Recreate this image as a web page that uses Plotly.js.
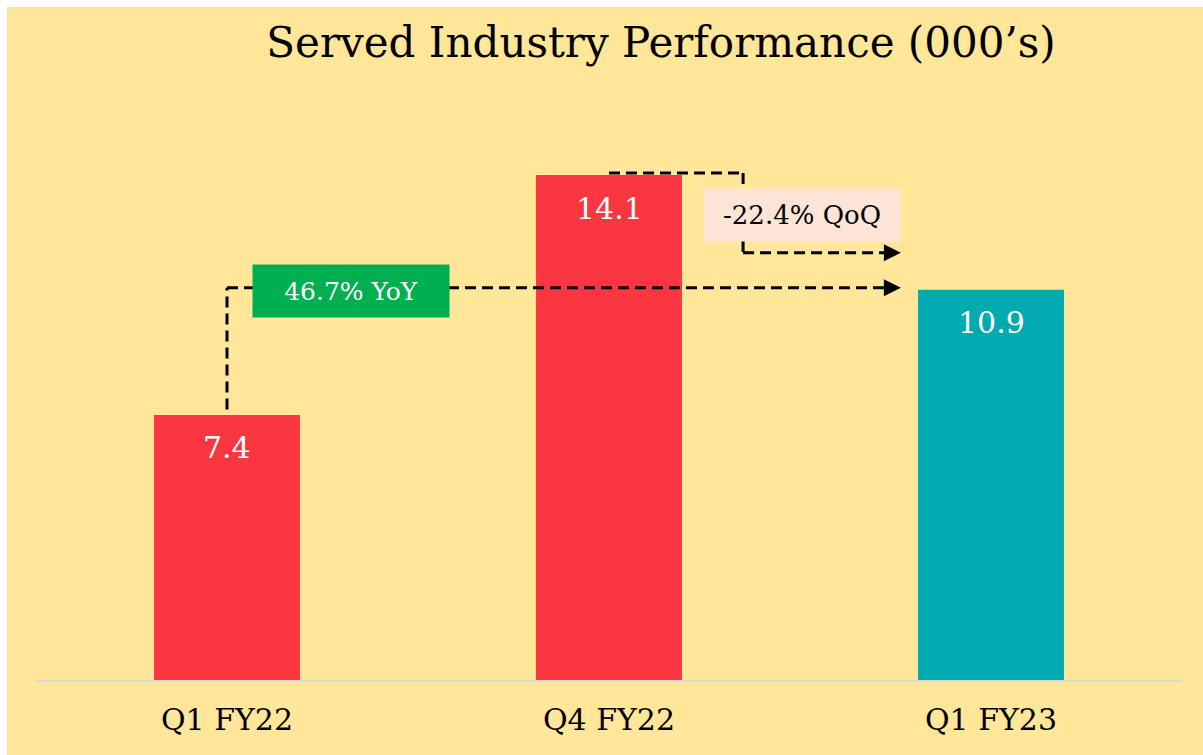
<!DOCTYPE html>
<html>
<head>
<meta charset="utf-8">
<script src="https://cdn.plot.ly/plotly-3.0.1.min.js"></script>
<style>
html, body { margin: 0; padding: 0; background: #ffffff; }
#chart { position: absolute; left: 7px; top: 7px; width: 1196px; height: 748px; }
</style>
</head>
<body>
<div id="chart"></div>
<script>
// ---- data ----
const categories = ["Q1 FY22", "Q4 FY22", "Q1 FY23"];
const values = [7.4, 14.1, 10.9];
const valueLabels = ["7.4", "14.1", "10.9"];
const barColors = ["#FA3640", "#FA3640", "#00AAAE"];
const yoyText = "46.7% YoY";
const qoqText = "-22.4% QoQ";
const titleText = "Served Industry Performance (000’s)";

// ---- style constants ----
const FONT = "DejaVu Serif, Liberation Serif, serif";
const BG = "#FFE699";
const dashStyle = { color: "#000000", width: 3, dash: "11px,6px" };
const arrowTipX = 1.764;             // category-index position of arrow tips
const yoyLevel = values[2] + 0.05;   // YoY arrow runs at the Q1 FY23 level
const qoqLevel = values[2] + 1.03;   // QoQ arrow level
const qoqTurnX = 1.351;

const trace = {
  type: "bar",
  x: categories,
  y: values,
  width: 0.382,
  marker: { color: barColors },
  hoverinfo: "skip",
  showlegend: false
};

function seg(x0, y0, x1, y1) {
  return { type: "line", xref: "x", yref: "y", x0: x0, y0: y0, x1: x1, y1: y1,
           line: dashStyle, layer: "above" };
}
function arrowHead(x, y) {
  return { type: "path", xref: "x", yref: "y", xsizemode: "pixel", ysizemode: "pixel",
           xanchor: x, yanchor: y, path: "M -17 -8.5 L 0 0 L -17 8.5 Z",
           fillcolor: "#000000", line: { width: 0 }, layer: "above" };
}

const shapes = [
  // YoY connector
  seg(0, values[0] + 0.15, 0, yoyLevel),
  seg(0, yoyLevel, arrowTipX - 0.02, yoyLevel),
  arrowHead(arrowTipX, yoyLevel),
  // QoQ connector
  seg(1, values[1] + 0.06, qoqTurnX, values[1] + 0.06),
  seg(qoqTurnX, values[1] + 0.06, qoqTurnX, qoqLevel),
  seg(qoqTurnX, qoqLevel, arrowTipX - 0.02, qoqLevel),
  arrowHead(arrowTipX, qoqLevel)
];

const annotations = categories.map((c, i) => ({
  x: c, y: values[i], xref: "x", yref: "y", text: valueLabels[i],
  showarrow: false, yanchor: "middle", yshift: -33,
  font: { family: FONT, size: 30, color: "#FFFFFF" }
}));

annotations.push({
  x: 0.325, y: 10.87, xref: "x", yref: "y", text: yoyText, showarrow: false,
  xanchor: "center", yanchor: "middle", width: 196, height: 52, borderpad: 0,
  bgcolor: "#00B050", font: { family: FONT, size: 25, color: "#FFFFFF" }
});
annotations.push({
  x: 1.505, y: 12.99, xref: "x", yref: "y", text: qoqText, showarrow: false,
  xanchor: "center", yanchor: "middle", width: 196, height: 52, borderpad: 0,
  bgcolor: "#FCE4D6", font: { family: FONT, size: 26, color: "#000000" }
});

const layout = {
  width: 1196, height: 748,
  paper_bgcolor: BG, plot_bgcolor: BG,
  margin: { l: 29, r: 21, t: 100, b: 75 },
  title: {
    text: titleText, xref: "paper", x: 0.5454, xanchor: "center",
    yref: "container", y: 0.953, yanchor: "middle",
    font: { family: FONT, size: 42, color: "#000000" }
  },
  xaxis: {
    type: "category", range: [-0.5, 2.5], showgrid: false, zeroline: false,
    showline: true, linecolor: "#D9D9D9", linewidth: 2, ticks: "",
    ticklabelstandoff: 12,
    tickfont: { family: FONT, size: 30, color: "#000000" }
  },
  yaxis: { range: [0, 16], visible: false, showgrid: false, zeroline: false },
  bargap: 0.618,
  shapes: shapes,
  annotations: annotations
};

Plotly.newPlot("chart", [trace], layout, { displayModeBar: false, staticPlot: true });
</script>
</body>
</html>
